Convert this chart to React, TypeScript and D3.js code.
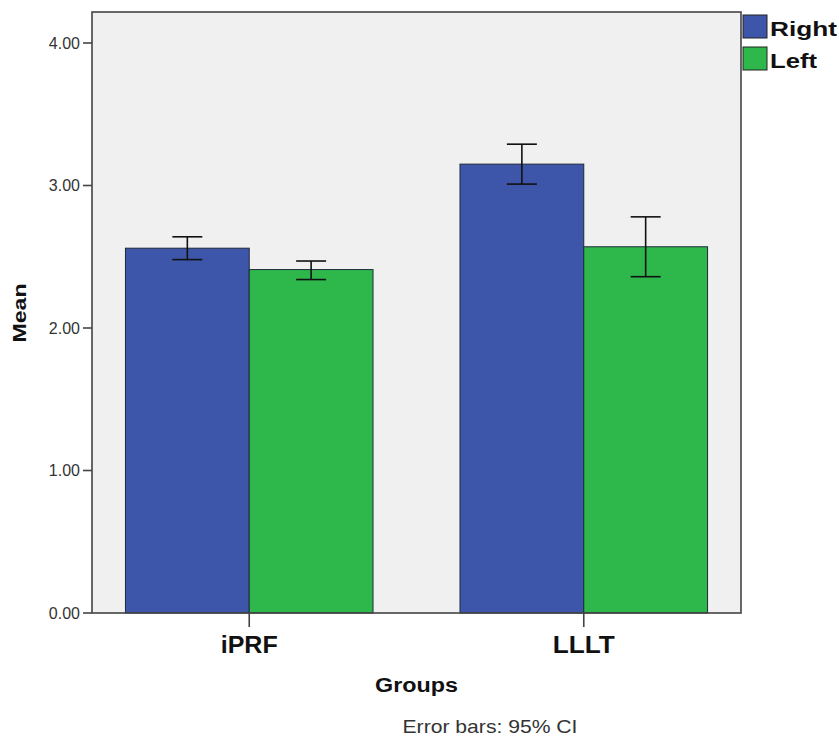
import React from "react";
import * as d3 from "d3";

const groups = ["iPRF", "LLLT"];
const sides = ["Right", "Left"];
// mean, lower CI, upper CI per group, per side
const rightMean = [2.56, 3.15];
const rightLow = [2.48, 3.01];
const rightHigh = [2.64, 3.29];
const leftMean = [2.41, 2.57];
const leftLow = [2.34, 2.36];
const leftHigh = [2.47, 2.78];
const yTicks = [0, 1, 2, 3, 4];

const colors = { Right: "#3e56a9", Left: "#2eb84b" };
const legendWidths = { Right: 67, Left: 47 };
const groupWidths = { iPRF: 57, LLLT: 62 };

export default function App() {
  const width = 839;
  const height = 740;
  const m = { left: 92, right: 741, top: 12, bottom: 613 };

  const x = d3
    .scaleBand()
    .domain(groups)
    .range([m.left, m.right])
    .paddingInner(0.26)
    .paddingOuter(0.1);

  const xSide = d3.scaleBand().domain(sides).range([0, x.bandwidth()]);

  const y = d3.scaleLinear().domain([0, 4]).range([m.bottom, m.bottom - 570]);

  const rows = groups.flatMap((g, i) => [
    { g, side: "Right", mean: rightMean[i], lo: rightLow[i], hi: rightHigh[i] },
    { g, side: "Left", mean: leftMean[i], lo: leftLow[i], hi: leftHigh[i] },
  ]);

  const font = "Arial, 'Liberation Sans', sans-serif";
  const fmt = d3.format(".2f");

  return (
    <svg
      width={width}
      height={height}
      style={{ position: "absolute", left: 0, top: 0, background: "#fff", fontFamily: font }}
    >
      <rect
        x={m.left}
        y={m.top}
        width={m.right - m.left}
        height={m.bottom - m.top}
        fill="#f0f0f0"
      />
      {rows.map((d, i) => {
        const bx = (x(d.g) ?? 0) + (xSide(d.side) ?? 0);
        const cx = bx + xSide.bandwidth() / 2;
        return (
          <g key={i}>
            <rect
              x={bx}
              y={y(d.mean)}
              width={xSide.bandwidth()}
              height={y(0) - y(d.mean)}
              fill={colors[d.side as "Right" | "Left"]}
              stroke="#1e2a3a"
              strokeWidth={1}
            />
            <g stroke="#111" strokeWidth={1.6}>
              <line x1={cx} x2={cx} y1={y(d.lo)} y2={y(d.hi)} />
              <line x1={cx - 15} x2={cx + 15} y1={y(d.lo)} y2={y(d.lo)} />
              <line x1={cx - 15} x2={cx + 15} y1={y(d.hi)} y2={y(d.hi)} />
            </g>
          </g>
        );
      })}
      <rect
        x={m.left}
        y={m.top}
        width={m.right - m.left}
        height={m.bottom - m.top}
        fill="none"
        stroke="#444"
        strokeWidth={1.6}
      />
      {yTicks.map((t) => (
        <g key={t}>
          <line x1={m.left - 9} x2={m.left} y1={y(t)} y2={y(t)} stroke="#444" strokeWidth={1.6} />
          <text
            x={m.left - 12}
            y={y(t)}
            dy="0.36em"
            textAnchor="end"
            fontSize={16}
            fill="#333"
          >
            {fmt(t)}
          </text>
        </g>
      ))}
      {groups.map((g) => {
        const cx = (x(g) ?? 0) + x.bandwidth() / 2;
        return (
          <g key={g}>
            <line x1={cx} x2={cx} y1={m.bottom} y2={m.bottom + 14} stroke="#444" strokeWidth={1.6} />
            <text
              x={cx}
              y={653}
              textAnchor="middle"
              fontSize={24}
              fontWeight="bold"
              fill="#111"
              textLength={groupWidths[g as "iPRF" | "LLLT"]}
              lengthAdjust="spacingAndGlyphs"
            >
              {g}
            </text>
          </g>
        );
      })}
      <text
        x={(m.left + m.right) / 2}
        y={692}
        textAnchor="middle"
        fontSize={20}
        fontWeight="bold"
        fill="#111"
        textLength={83}
        lengthAdjust="spacingAndGlyphs"
      >
        Groups
      </text>
      <text
        transform={`translate(26,${313}) rotate(-90)`}
        textAnchor="middle"
        fontSize={18}
        fontWeight="bold"
        fill="#111"
        textLength={59}
        lengthAdjust="spacingAndGlyphs"
      >
        Mean
      </text>
      <text
        x={490}
        y={733}
        textAnchor="middle"
        fontSize={19}
        fill="#333"
        textLength={175}
        lengthAdjust="spacingAndGlyphs"
      >
        Error bars: 95% CI
      </text>
      {sides.map((s, i) => (
        <g key={s} transform={`translate(743,${15 + i * 32})`}>
          <rect
            width={24}
            height={23}
            fill={colors[s as "Right" | "Left"]}
            stroke="#222"
            strokeWidth={1}
          />
          <text
            x={27}
            y={21}
            fontSize={21}
            fontWeight="bold"
            fill="#111"
            textLength={legendWidths[s as "Right" | "Left"]}
            lengthAdjust="spacingAndGlyphs"
          >
            {s}
          </text>
        </g>
      ))}
    </svg>
  );
}
